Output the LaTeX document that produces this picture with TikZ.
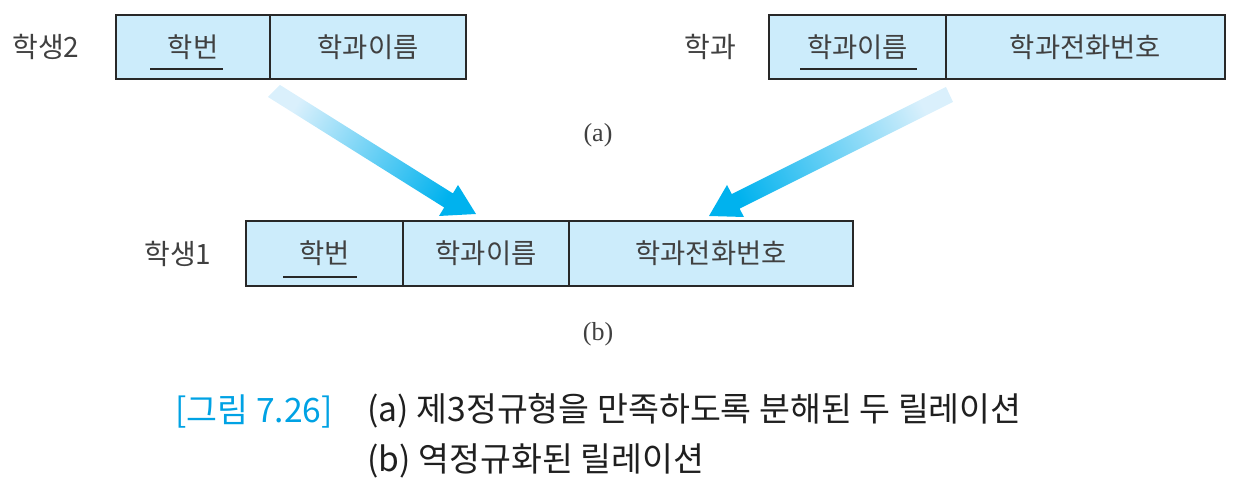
\documentclass[tikz,border=0pt]{standalone}
\usepackage{fontspec}
\setmainfont{Noto Sans CJK KR}
\newfontfamily\kr{Noto Sans CJK KR}
\newfontfamily\lserif{Liberation Serif}
\definecolor{cellfill}{RGB}{204,236,251}
\definecolor{linegray}{RGB}{40,40,40}
\definecolor{txtgray}{RGB}{64,64,64}
\definecolor{capcyan}{RGB}{0,162,228}
\definecolor{arrowcyan}{RGB}{0,178,238}
\definecolor{arrowlight}{RGB}{218,240,252}
\newcommand\mkcell[6]{%
  \node[cell, minimum width={(#3-#2)*0.5pt}, minimum height={(#5-#4)*0.5pt}]
    (#1) at ({(#2+#3)/2},{(#4+#5)/2}) {#6};}
\begin{document}
\begin{tikzpicture}[x=0.5pt,y=-0.5pt,
  cell/.style={draw=linegray, line width=1pt, fill=cellfill, inner sep=0pt,
    text=txtgray, font=\kr\fontsize{13.7}{16}\selectfont},
  rlabel/.style={text=txtgray, inner sep=0pt, font=\kr\fontsize{14}{16}\selectfont},
  sublabel/.style={text=txtgray, inner sep=0pt, font=\lserif\fontsize{13}{15}\selectfont},
  keyline/.style={draw=linegray, line width=1pt},
  bigarrow/.style={draw=none},
  captext/.style={anchor=west, inner sep=0pt, text=black!88, font=\kr\fontsize{16.8}{20}\selectfont}]
\useasboundingbox (0,0) rectangle (1244,490);
% relation 학생2
\node[rlabel] (l2) at (46,47) {학생2};
\mkcell{s2a}{116}{270}{15}{79}{학번}
\mkcell{s2b}{270}{466}{15}{79}{학과이름}
\draw[keyline] (150,69) -- (223,69);
% relation 학과
\node[rlabel] (ld) at (710,47) {학과};
\mkcell{da}{769}{946}{15}{79}{학과이름}
\mkcell{db}{946}{1225}{15}{79}{학과전화번호}
\draw[keyline] (800,69) -- (917,69);
% relation 학생1
\node[rlabel] (l1) at (178,254) {학생1};
\mkcell{s1a}{246}{403}{221}{286}{학번}
\mkcell{s1b}{403}{569}{221}{286}{학과이름}
\mkcell{s1c}{569}{853}{221}{286}{학과전화번호}
\draw[keyline] (283,277) -- (357,277);
% sub labels
\node[sublabel] (suba) at (598,135) {(a)};
\node[sublabel] (subb) at (598,334) {(b)};
% arrows
\shade[bigarrow, top color=arrowlight, bottom color=arrowcyan, shading angle=58]
  (280,85) -- (452.9,193.4) -- (458,185) -- (476,214) -- (439,216) -- (444.2,207.5) -- (268,97) -- cycle;
\shade[bigarrow, top color=arrowlight, bottom color=arrowcyan, shading angle=-63]
  (946,87) -- (731.8,194.1) -- (727,185) -- (709,216) -- (744,217) -- (739.6,208.7) -- (953,102) -- cycle;
% caption
\node[captext, text=capcyan] (capnum) at (175,411) {[그림 7.26]};
\node[captext] (capa) at (367,411) {(a) 제3정규형을 만족하도록 분해된 두 릴레이션};
\node[captext] (capb) at (367,461) {(b) 역정규화된 릴레이션};
\end{tikzpicture}
\end{document}
